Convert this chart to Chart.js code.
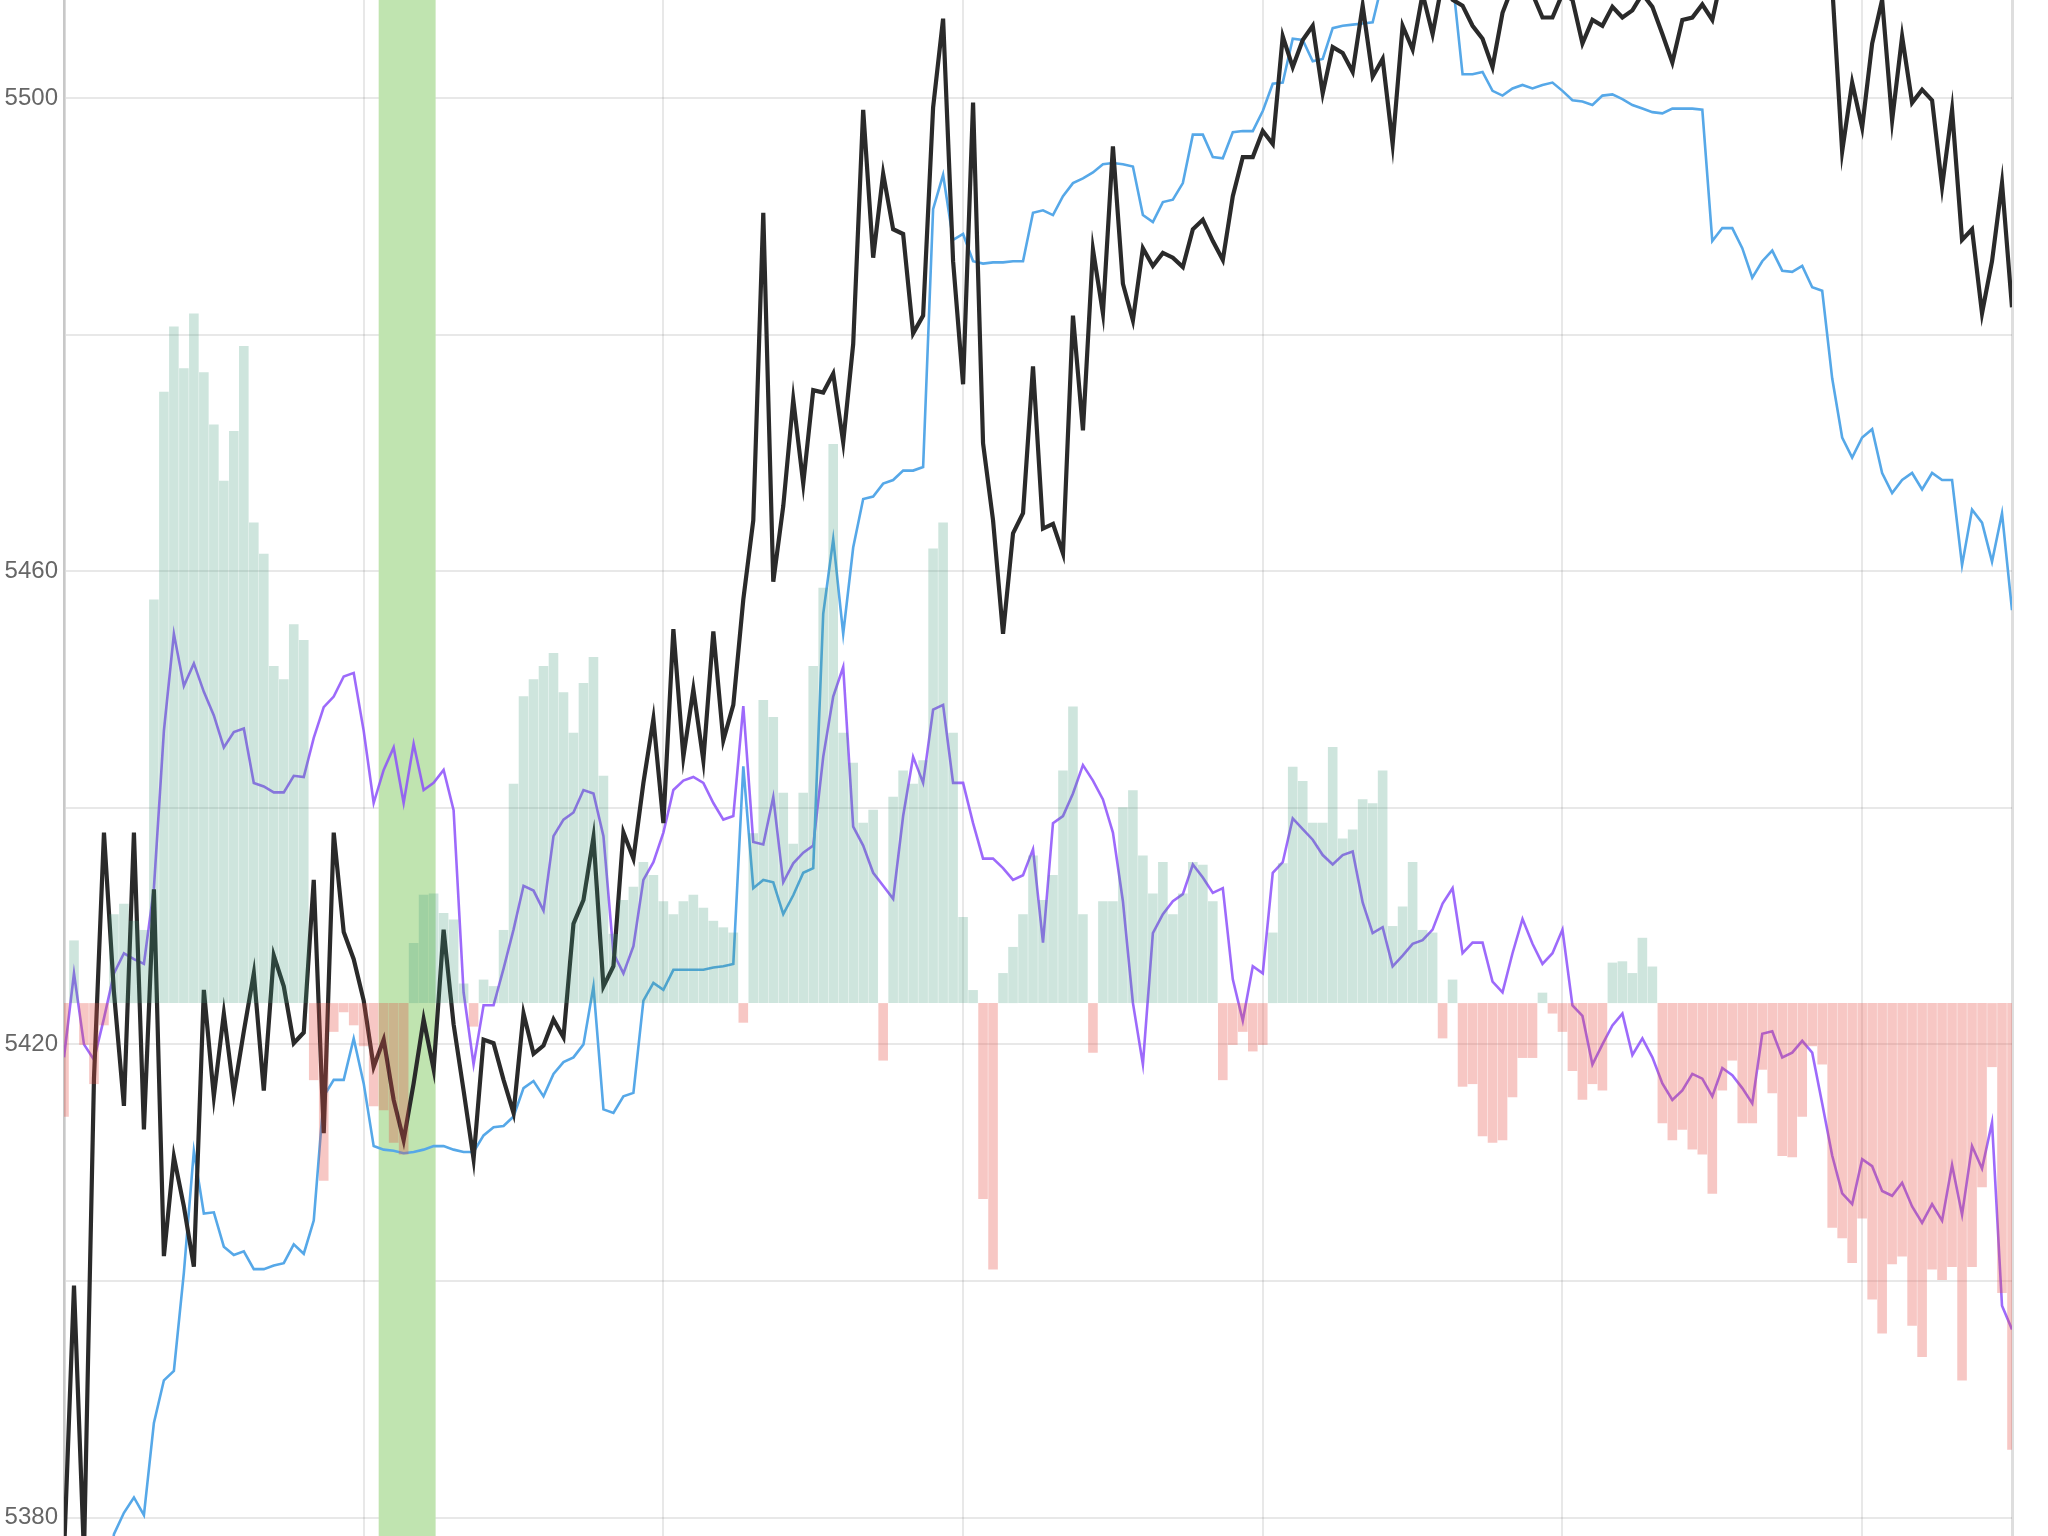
<!DOCTYPE html>
<html>
<head>
<meta charset="utf-8">
<script src="https://cdn.jsdelivr.net/npm/chart.js@4.4.1/dist/chart.umd.min.js"></script>
<style>
  html, body { margin: 0; padding: 0; background: #fff; overflow: hidden; }
  #wrap { position: relative; width: 2048px; height: 1536px; }
</style>
</head>
<body>
<div id="wrap"><canvas id="price_chart"></canvas></div>
<script>

// price (black)
var blackLine = [
  5376.9, 5399.6, 5376.9, 5417.1, 5437.9, 5424.4, 5414.8, 5437.9, 5412.8, 5433.1,
  5402.1, 5410.5, 5406.3, 5401.2, 5424.6, 5415.6, 5422.6, 5415.9, 5421.1, 5426.0,
  5416.1, 5427.5, 5424.9, 5420.1, 5421.0, 5433.9, 5412.5, 5437.9, 5429.5, 5427.2,
  5423.7, 5418.1, 5420.4, 5415.3, 5411.9, 5416.7, 5422.1, 5417.9, 5429.7, 5421.7,
  5416.1, 5410.3, 5420.4, 5420.1, 5417.0, 5414.2, 5422.6, 5419.2, 5419.9, 5422.1,
  5420.6, 5430.2, 5432.2, 5437.5, 5424.9, 5426.6, 5437.9, 5435.7, 5442.1, 5447.5,
  5438.7, 5455.1, 5444.3, 5450.0, 5444.0, 5454.9, 5445.7, 5448.7, 5457.6, 5464.3,
  5490.3, 5459.1, 5465.5, 5474.5, 5467.4, 5475.3, 5475.1, 5476.7, 5470.9, 5479.2,
  5499.0, 5486.5, 5493.6, 5488.9, 5488.5, 5480.1, 5481.6, 5499.2, 5506.7, 5486.2,
  5475.8, 5499.6, 5470.8, 5464.3, 5454.7, 5463.2, 5464.9, 5477.3, 5463.6, 5464.0,
  5461.5, 5481.6, 5471.9, 5487.2, 5481.8, 5495.9, 5484.3, 5481.2, 5487.3, 5485.8,
  5486.9, 5486.5, 5485.7, 5488.9, 5489.7, 5487.9, 5486.3, 5491.7, 5495.0, 5495.0,
  5497.2, 5496.1, 5505.2, 5502.6, 5504.9, 5506.1, 5500.4, 5504.3, 5503.8, 5502.2,
  5507.8, 5501.8, 5503.3, 5496.1, 5506.1, 5504.1, 5508.8, 5505.4, 5509.9, 5508.3,
  5507.8, 5506.1, 5505.0, 5502.6, 5507.2, 5509.4, 5508.8, 5508.8, 5506.8, 5506.8,
  5508.8, 5508.3, 5504.6, 5506.6, 5506.1, 5507.7, 5506.8, 5507.4, 5508.8, 5507.7,
  5505.4, 5503.0, 5506.6, 5506.8, 5507.9, 5506.6, 5510.5, 5512.0, 5514.0, 5511.0,
  5513.0, 5515.0, 5512.0, 5514.0, 5511.0, 5513.0, 5511.0, 5509.5, 5495.5, 5501.3,
  5497.5, 5504.6, 5508.3, 5498.1, 5505.2, 5499.6, 5500.7, 5499.8, 5492.5, 5499.0,
  5488.0, 5488.9, 5481.8, 5486.2, 5492.8, 5482.3
];

// stepped average (blue)
var blueLine = [
  null, null, null, null, 5372.0, 5378.6, 5380.4, 5381.7, 5380.2, 5388.0,
  5391.6, 5392.4, 5400.7, 5411.0, 5405.7, 5405.8, 5402.9, 5402.2, 5402.5, 5401.0,
  5401.0, 5401.3, 5401.5, 5403.1, 5402.3, 5405.1, 5415.6, 5417.0, 5417.0, 5420.5,
  5416.7, 5411.4, 5411.1, 5411.0, 5410.8, 5410.9, 5411.1, 5411.4, 5411.4, 5411.1,
  5410.9, 5410.9, 5412.3, 5413.0, 5413.1, 5413.9, 5416.3, 5416.9, 5415.6, 5417.5,
  5418.5, 5418.9, 5420.0, 5424.9, 5414.5, 5414.2, 5415.6, 5415.9, 5423.7, 5425.2,
  5424.6, 5426.3, 5426.3, 5426.3, 5426.3, 5426.5, 5426.6, 5426.8, 5443.5, 5433.2,
  5433.9, 5433.7, 5431.0, 5432.6, 5434.5, 5434.9, 5456.4, 5462.7, 5454.7, 5462.0,
  5466.1, 5466.3, 5467.4, 5467.7, 5468.5, 5468.5, 5468.8, 5490.6, 5493.5, 5488.0,
  5488.5, 5486.2, 5486.0, 5486.1, 5486.1, 5486.2, 5486.2, 5490.3, 5490.5, 5490.1,
  5491.7, 5492.8, 5493.2, 5493.7, 5494.4, 5494.5, 5494.4, 5494.2, 5490.1, 5489.5,
  5491.2, 5491.4, 5492.8, 5496.9, 5496.9, 5495.0, 5494.9, 5497.1, 5497.2, 5497.2,
  5498.9, 5501.2, 5501.3, 5505.0, 5504.9, 5503.1, 5503.3, 5505.9, 5506.1, 5506.2,
  5506.3, 5506.4, 5509.9, 5511.0, 5512.0, 5512.0, 5512.0, 5512.0, 5511.0, 5510.0,
  5502.0, 5502.0, 5502.2, 5500.6, 5500.2, 5500.8, 5501.1, 5500.8, 5501.1, 5501.3,
  5500.6, 5499.8, 5499.7, 5499.4, 5500.2, 5500.3, 5499.9, 5499.4, 5499.1, 5498.8,
  5498.7, 5499.1, 5499.1, 5499.1, 5499.0, 5487.9, 5489.0, 5489.0, 5487.3, 5484.8,
  5486.2, 5487.1, 5485.4, 5485.3, 5485.8, 5484.0, 5483.7, 5476.3, 5471.3, 5469.6,
  5471.3, 5472.0, 5468.3, 5466.6, 5467.7, 5468.3, 5466.9, 5468.3, 5467.7, 5467.7,
  5460.5, 5465.2, 5464.1, 5460.8, 5464.9, 5456.7
];

// smoothed line (purple)
var purpleLine = [
  5418.9, 5426.0, 5420.0, 5418.7, 5422.2, 5426.0, 5427.7, 5427.2, 5426.8, 5433.2,
  5446.5, 5454.7, 5450.3, 5452.2, 5449.8, 5447.8, 5445.1, 5446.4, 5446.7, 5442.1,
  5441.8, 5441.3, 5441.3, 5442.7, 5442.6, 5445.9, 5448.5, 5449.4, 5451.1, 5451.4,
  5446.5, 5440.4, 5443.2, 5445.1, 5440.4, 5445.4, 5441.5, 5442.1, 5443.2, 5439.8,
  5424.4, 5418.3, 5423.3, 5423.3, 5426.4, 5429.7, 5433.4, 5433.0, 5431.3, 5437.6,
  5439.0, 5439.6, 5441.5, 5441.2, 5437.6, 5427.7, 5426.0, 5428.3, 5433.9, 5435.4,
  5437.9, 5441.5, 5442.3, 5442.6, 5442.1, 5440.4, 5439.0, 5439.3, 5448.6, 5437.1,
  5436.9, 5440.9, 5433.7, 5435.3, 5436.2, 5436.8, 5444.3, 5449.4, 5451.9, 5438.4,
  5436.8, 5434.5, 5433.4, 5432.3, 5439.3, 5444.3, 5442.1, 5448.3, 5448.7, 5442.1,
  5442.1, 5438.7, 5435.7, 5435.7, 5434.9, 5433.9, 5434.3, 5436.5, 5428.6, 5438.7,
  5439.3, 5441.2, 5443.6, 5442.3, 5440.7, 5437.9, 5432.1, 5423.5, 5418.3, 5429.4,
  5431.0, 5432.1, 5432.7, 5435.2, 5434.1, 5432.8, 5433.2, 5425.5, 5422.0, 5426.6,
  5426.0, 5434.5, 5435.4, 5439.1, 5438.2, 5437.3, 5436.0, 5435.2, 5436.0, 5436.3,
  5432.0, 5429.4, 5429.9, 5426.6, 5427.5, 5428.5, 5428.8, 5429.7, 5431.9, 5433.2,
  5427.7, 5428.6, 5428.6, 5425.3, 5424.4, 5427.7, 5430.6, 5428.5, 5426.8, 5427.7,
  5429.7, 5423.3, 5422.4, 5418.3, 5420.0, 5421.6, 5422.6, 5419.1, 5420.5, 5418.9,
  5416.7, 5415.3, 5416.1, 5417.5, 5417.1, 5415.6, 5418.0, 5417.4, 5416.3, 5415.0,
  5420.9, 5421.1, 5418.9, 5419.3, 5420.3, 5419.3, 5415.0, 5410.6, 5407.4, 5406.5,
  5410.3, 5409.7, 5407.6, 5407.2, 5408.3, 5406.3, 5404.9, 5406.5, 5405.1, 5409.8,
  5405.6, 5411.4, 5409.5, 5413.4, 5397.9, 5395.9
];

// histogram (own axis, 0 = baseline)
var flowBars = [
  -8.7, 4.8, -3.2, -6.2, -1.7, 6.8, 7.6, 6.3, 5.6, 30.9,
  46.8, 51.8, 48.6, 52.8, 48.3, 44.3, 40.0, 43.8, 50.3, 36.8,
  34.4, 25.8, 24.8, 29.0, 27.8, -5.9, -13.6, -2.2, -0.7, -1.7,
  -3.3, -7.9, -8.2, -10.7, -11.6, 4.6, 8.3, 8.4, 6.9, 6.4,
  1.5, -1.8, 1.8, 1.3, 5.6, 16.8, 23.5, 24.8, 25.8, 26.8,
  23.8, 20.7, 24.5, 26.5, 17.4, 5.3, 7.9, 8.9, 10.8, 9.8,
  7.8, 6.8, 7.8, 8.3, 7.3, 6.3, 5.8, 5.4, -1.5, 13.0,
  23.2, 21.9, 16.1, 12.2, 16.1, 25.8, 31.8, 42.8, 20.7, 18.4,
  13.8, 14.8, -4.4, 15.8, 17.8, 16.8, 18.6, 34.8, 36.8, 20.7,
  6.6, 1.0, -15.0, -20.4, 2.3, 4.3, 6.8, 11.3, 7.9, 9.8,
  17.8, 22.7, 6.8, -3.8, 7.8, 7.8, 15.0, 16.3, 11.3, 8.4,
  10.8, 6.8, 8.4, 10.8, 10.6, 7.8, -5.9, -3.2, -2.2, -3.7,
  -3.2, 5.4, 10.7, 18.1, 17.0, 13.8, 13.8, 19.6, 12.6, 13.3,
  15.6, 15.3, 17.8, 5.9, 7.4, 10.8, 5.6, 5.4, -2.7, 1.8,
  -6.4, -6.2, -10.2, -10.7, -10.5, -7.2, -4.2, -4.2, 0.8, -0.8,
  -2.2, -5.2, -7.4, -6.2, -6.7, 3.1, 3.2, 2.3, 5.0, 2.8,
  -9.2, -10.5, -9.7, -11.2, -11.6, -14.6, -6.7, -4.4, -9.2, -9.2,
  -5.1, -6.9, -11.7, -11.8, -8.7, -3.3, -4.7, -17.2, -18.0, -19.9,
  -16.5, -22.7, -25.3, -20.0, -19.4, -24.7, -27.1, -20.4, -21.2, -20.2,
  -28.9, -20.2, -14.1, -4.9, -22.2, -34.2
];

// highlighted interval (in sample index units)
var bandStart = 31.5;
var bandEnd = 37.2;

var xGrid = [0, 30, 60, 90, 120, 150, 180, 195];
var yGrid = [5380, 5400, 5420, 5440, 5460, 5480, 5500];
var yLabels = [5380, 5420, 5460, 5500];

var labels = blackLine.map(function (v, i) { return i; });

var bandPlugin = {
  id: 'band',
  beforeDatasetsDraw: function (chart) {
    var c = chart.ctx;
    var area = chart.chartArea;
    var x0 = chart.scales.x.getPixelForValue(bandStart);
    var x1 = chart.scales.x.getPixelForValue(bandEnd);
    c.save();
    c.fillStyle = '#c0e4b0';
    c.fillRect(x0, area.top, x1 - x0, area.bottom - area.top);
    c.restore();
  }
};

Chart.defaults.font.family = "'Liberation Sans', Arial, sans-serif";

var ctx = document.getElementById("price_chart");
var pricechart = new Chart(ctx, {
  type: 'line',
  data: {
    labels: labels,
    datasets: [{
      type: 'bar',
      data: flowBars,
      yAxisID: 'y2',
      backgroundColor: function (c) {
        return c.raw >= 0 ? 'rgba(60, 150, 120, 0.25)' : 'rgba(228, 75, 65, 0.31)';
      },
      borderWidth: 0,
      barPercentage: 0.96,
      categoryPercentage: 1,
      order: 0
    }, {
      data: blackLine,
      borderColor: '#2a2a2a',
      borderWidth: 4.2,
      pointRadius: 0,
      tension: 0,
      order: 1
    }, {
      data: blueLine,
      borderColor: 'rgb(86, 168, 232)',
      borderWidth: 2.6,
      pointRadius: 0,
      tension: 0,
      order: 2
    }, {
      data: purpleLine,
      borderColor: 'rgba(140, 80, 250, 0.85)',
      borderWidth: 2.6,
      pointRadius: 0,
      tension: 0,
      order: 3
    }]
  },
  options: {
    responsive: true,
    maintainAspectRatio: false,
    animation: false,
    layout: {
      padding: { left: 0, right: 36, top: 0, bottom: 0 }
    },
    plugins: {
      legend: { display: false },
      tooltip: { enabled: false }
    },
    scales: {
      x: {
        type: 'linear',
        min: 0,
        max: 195,
        offset: false,
        afterBuildTicks: function (scale) {
          scale.ticks = xGrid.map(function (v) { return { value: v }; });
        },
        ticks: { display: false },
        grid: {
          offset: false,
          drawTicks: false,
          lineWidth: function (c) { return c.tick && c.tick.value === 195 ? 3 : 2; },
          color: function (c) { return c.tick && c.tick.value === 195 ? 'rgba(0,0,0,0.13)' : 'rgba(0,0,0,0.09)'; }
        },
        border: { display: false }
      },
      y: {
        min: 5378.44,
        max: 5508.28,
        afterBuildTicks: function (scale) {
          scale.ticks = yGrid.map(function (v) { return { value: v }; });
        },
        afterFit: function (scale) {
          scale.width = 64;
          // no extra room for half labels at the ends
          scale.paddingTop = 0;
          scale.paddingBottom = 0;
        },
        ticks: {
          padding: 6,
          color: '#666',
          font: { size: 24 },
          callback: function (value) {
            return yLabels.indexOf(value) >= 0 ? String(value) : '';
          }
        },
        grid: {
          drawTicks: false,
          lineWidth: 2,
          color: 'rgba(0,0,0,0.09)'
        },
        border: { display: true, color: 'rgba(0,0,0,0.14)', width: 3 }
      },
      y2: {
        display: false,
        min: -40.8,
        max: 76.8
      }
    }
  },
  plugins: [bandPlugin]
});

</script>
</body>
</html>
